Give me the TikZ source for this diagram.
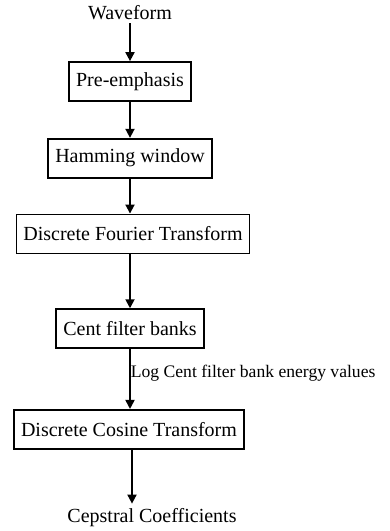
\documentclass[tikz,border=0pt]{standalone}
\usepackage{fontspec}
\setmainfont{Liberation Serif}
\usepackage{tikz}
\usetikzlibrary{positioning, arrows.meta}

\begin{document}
\begin{tikzpicture}[x=1pt, y=-1pt,
        blk/.style={draw, line width=1.7pt, minimum height=39pt, inner xsep=7pt, font=\fontsize{20}{22}\selectfont},
        txt/.style={inner sep=3pt, font=\fontsize{20}{22}\selectfont},
        flow/.style={line width=1.8pt, -{Triangle[length=9pt, width=9pt]}}]
        \useasboundingbox (0,0) rectangle (390,531);

        \node[txt](wave) at (130,13){Waveform};
        \node[blk](pre) at (130,81.5){Pre-emphasis};
        \node[blk](ham)[below = 36pt of pre]{Hamming window};
        \node[blk](dft)[below = 35pt of ham, xshift=3pt]{Discrete Fourier Transform};
        \node[blk](cent)[below = 54pt of dft, xshift=-3pt]{Cent filter banks};
        \node[blk](dct)[below = 60pt of cent, xshift=-1pt]{Discrete Cosine Transform};
        \node[txt](cep) at (152,518){Cepstral Coefficients};

        \draw[flow] (wave) -- (pre);
        \draw[flow] (pre) -- (ham);
        \draw[flow] (ham.south) -- (ham.south |- dft.north);
        \draw[flow] (dft.south -| cent) -- (cent);
        \draw[flow] (cent.south) -- (cent.south |- dct.north)
            node[pos=0.4, right, inner sep=0pt, font=\fontsize{17.6}{20}\selectfont] {Log Cent filter bank energy values};
        \draw[flow] (dct.south -| 132,0) -- ([yshift=2pt]cep.north -| 132,0);
    \end{tikzpicture}
\end{document}
